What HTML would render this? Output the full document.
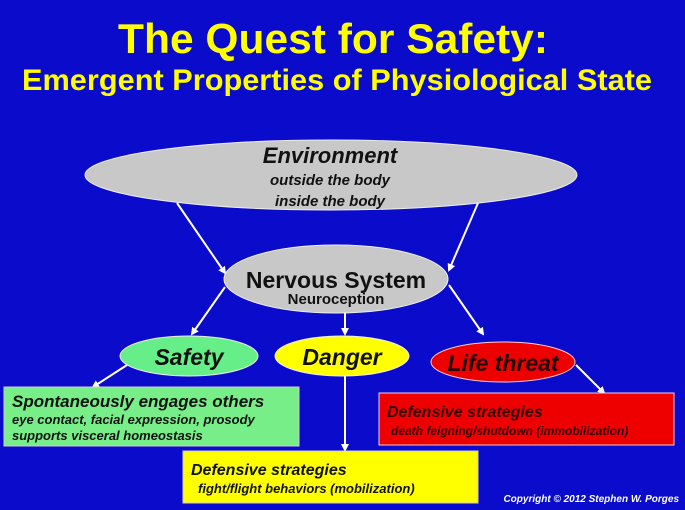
<!DOCTYPE html>
<html><head><style>
body{margin:0;background:#0b0bcc;}
svg{display:block}
text{font-family:"Liberation Sans",sans-serif;font-weight:bold;}
</style></head><body>
<svg width="685" height="510" viewBox="0 0 685 510">
<defs><marker id="a" markerWidth="8" markerHeight="8" refX="6" refY="4" orient="auto" markerUnits="userSpaceOnUse"><path d="M0,0 L8,4 L0,8 z" fill="#fff"/></marker></defs>
<rect width="685" height="510" fill="#0b0bcc"/>
<text x="333" y="53" font-size="42" fill="#ffff00" text-anchor="middle" textLength="430" lengthAdjust="spacingAndGlyphs">The Quest for Safety:</text>
<text x="337" y="90" font-size="30" fill="#ffff00" text-anchor="middle" textLength="630" lengthAdjust="spacingAndGlyphs">Emergent Properties of Physiological State</text>
<g stroke="#fff" stroke-width="2" marker-end="url(#a)">
<line x1="177" y1="203" x2="225" y2="273"/>
<line x1="478" y1="203" x2="449" y2="270"/>
<line x1="225" y1="287" x2="192" y2="334"/>
<line x1="345" y1="313" x2="345" y2="334"/>
<line x1="449" y1="285" x2="483" y2="334"/>
<line x1="127" y1="365" x2="93" y2="387"/>
<line x1="345" y1="376" x2="345" y2="450"/>
<line x1="576" y1="365" x2="604" y2="393"/>
</g>
<ellipse cx="331" cy="175" rx="246" ry="35" fill="#c8c8c8" stroke="#eee"/>
<text x="330" y="163" font-size="22" font-style="italic" text-anchor="middle" fill="#111">Environment</text>
<text x="330" y="185" font-size="15" font-style="italic" text-anchor="middle" fill="#111">outside the body</text>
<text x="330" y="206" font-size="15" font-style="italic" text-anchor="middle" fill="#111">inside the body</text>
<ellipse cx="336" cy="279" rx="112" ry="34" fill="#c8c8c8" stroke="#eee"/>
<text x="336" y="288" font-size="23" text-anchor="middle" fill="#111">Nervous System</text>
<text x="336" y="304" font-size="15" text-anchor="middle" fill="#111">Neuroception</text>
<ellipse cx="189" cy="356" rx="69" ry="20" fill="#66ee88" stroke="#eee"/>
<text x="189" y="365" font-size="23" font-style="italic" text-anchor="middle" fill="#111">Safety</text>
<ellipse cx="342" cy="356" rx="67" ry="20" fill="#ffff00" stroke="#eee"/>
<text x="342" y="365" font-size="23" font-style="italic" text-anchor="middle" fill="#111">Danger</text>
<ellipse cx="503" cy="362" rx="72" ry="20" fill="#ee0000" stroke="#fcc"/>
<text x="503" y="371" font-size="23" font-style="italic" text-anchor="middle" fill="#220000">Life threat</text>
<rect x="4" y="387" width="295" height="59" fill="#77ee88" stroke="#ccc"/>
<text x="12" y="407" font-size="17" font-style="italic" fill="#111">Spontaneously engages others</text>
<text x="12" y="424" font-size="13" font-style="italic" fill="#111">eye contact, facial expression, prosody</text>
<text x="12" y="440" font-size="13" font-style="italic" fill="#111">supports visceral homeostasis</text>
<rect x="379" y="393" width="295" height="52" fill="#ee0000" stroke="#fcc"/>
<text x="387" y="417" font-size="16" font-style="italic" fill="#330000">Defensive strategies</text>
<text x="391" y="435" font-size="12" font-style="italic" fill="#330000">death feigning/shutdown (immobilization)</text>
<rect x="183" y="451" width="295" height="52" fill="#ffff00" stroke="#ccc"/>
<text x="191" y="475" font-size="16" font-style="italic" fill="#111">Defensive strategies</text>
<text x="198" y="493" font-size="13" font-style="italic" fill="#111">fight/flight behaviors (mobilization)</text>
<text x="679" y="502" font-size="10" font-style="italic" fill="#fff" text-anchor="end">Copyright © 2012 Stephen W. Porges</text>
</svg>
</body></html>
